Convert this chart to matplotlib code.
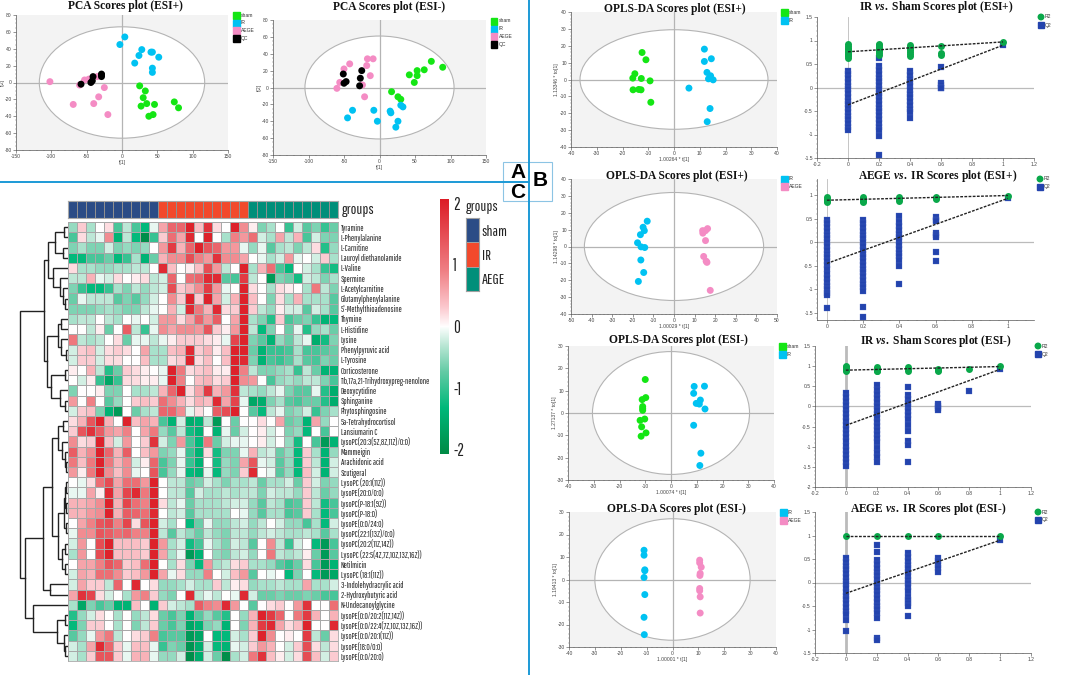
import matplotlib
matplotlib.use("Agg")
import logging
import numpy as np
import matplotlib.pyplot as plt
from matplotlib.colors import LinearSegmentedColormap, ListedColormap, Normalize
from matplotlib.patches import Ellipse, Rectangle
from matplotlib.ticker import FormatStrFormatter

W, H = 1065, 675
GREEN = "#14e614"
CYAN = "#00c2f2"
PINK = "#f48cc4"
R2_COL = "#0aa84a"
Q2_COL = "#2343ad"
LINE_BLUE = "#1c9ad6"
NARROW = ["Pathway Gothic One", "Archivo Narrow", "Roboto Condensed", "Liberation Sans"]

logging.getLogger("matplotlib.font_manager").setLevel(logging.ERROR)
plt.rcParams["font.family"] = ["Liberation Sans"]
plt.rcParams["axes.unicode_minus"] = False
plt.rcParams["mathtext.fontset"] = "custom"
plt.rcParams["mathtext.rm"] = "Liberation Serif:bold"
plt.rcParams["mathtext.it"] = "Liberation Serif:italic:bold"

# PCA scores as (t1, t2)
PCA_POS_SHAM = [(25, -4), (33, -10), (30, -18), (27, -28), (35, -25), (46, -26), (38, -40), (44, -38), (74, -23), (80, -30)]
PCA_POS_IR = [(-3, 45), (4, 54), (28, 39), (41, 36), (43, 36), (52, 30), (24, 32), (18, 23), (43, 17), (43, 12)]
PCA_POS_AEGE = [(-102, 1), (-60, -3), (-53, 3), (-47, 4), (-35, 7), (-25, -6), (-33, -17), (-40, -25), (-69, -26), (-20, -38)]
PCA_POS_QC = [(-58, -2), (-44, 0), (-42, 2), (-41, 7), (-29, 7), (-29, 9), (-29, 10)]

PCA_NEG_SHAM = [(17, -5), (26, -11), (30, -14), (42, 15), (53, 20), (53, 14), (49, 6), (63, 21), (73, 31), (89, 24)]
PCA_NEG_IR = [(-38, -27), (-45, -36), (-8, -27), (15, -28), (16, -30), (-3, -40), (26, -40), (23, -47), (30, -21), (33, -23)]
PCA_NEG_AEGE = [(-17, 34), (-9, 34), (-42, 28), (-50, 22), (-18, 26), (-13, 14), (-56, 6), (-60, -1), (-24, 3), (-21, -11)]
PCA_NEG_QC = [(-51, 16), (-25, 20), (-27, 11), (-28, 2), (-50, 5), (-47, 7)]

# OPLS-DA scores
OPLS1_SHAM = [(-12.4, 16), (-10.9, 11.7), (-15.2, 3.4), (-16, 0.8), (-12.7, 0.6), (-9.3, -0.8), (-15.9, -6.1), (-13.7, -5.9), (-12.8, -6.1), (-9, -13.5)]
OPLS1_IR = [(11.8, 18), (14.5, 12.3), (11.8, 10.7), (12.8, 4.2), (14.2, 2.2), (13.4, 0.4), (15.2, -0.2), (5.8, -5.1), (14, -17.2), (12.9, -25)]
OPLS2_IR = [(-13, 15), (-15, 11.4), (-14.4, 9.4), (-16.3, 7), (-17.7, 2.2), (-16, -0.2), (-14.2, -0.6), (-16.1, -8), (-14.7, -15.4), (-17.3, -20.7)]
OPLS2_AEGE = [(16.3, 10.6), (13.9, 9.4), (15.3, 9.4), (14, 7.9), (15.3, 3.5), (14.4, -5.9), (15.6, -8.7), (16, -9.4), (17.6, -26)]
OPLS3_SHAM = [(-10, 15), (-9.8, 6.9), (-11.2, 6), (-11, 2.9), (-11, 2), (-11, 1.2), (-10.2, -2.7), (-12, -3.3), (-11.4, -6.2), (-9.7, -8.9), (-11.6, -10.4)]
OPLS3_IR = [(9, 11.9), (13, 12), (8.8, 8.8), (11.4, 5.8), (9.8, 4.3), (11, 4), (13.2, 1.8), (8.8, -5.5), (11.6, -18), (11.2, -23.5)]
OPLS4_IR = [(-11, 13), (-11, 10.8), (-10.7, 4.3), (-10.7, 3.9), (-11, 0.9), (-10.7, -6.7), (-11, -16.8), (-10.9, -24.5)]
OPLS4_AEGE = [(10.5, 8.6), (10.5, 7.4), (11.1, 5.5), (10.7, 2.7), (10.6, 1.8), (10.5, -4), (10.5, -5), (10.7, -7.7), (10.7, -14.9)]

# permutation tests: {x: [values]}
PERM1_R2 = {0: [0.92, 0.88, 0.85, 0.82, 0.78, 0.75, 0.72, 0.7, 0.66, 0.62], 0.2: [0.93, 0.9, 0.87, 0.84, 0.8, 0.77, 0.74, 0.7], 0.4: [0.9, 0.86, 0.83, 0.8, 0.76, 0.72, 0.68], 0.6: [0.89, 0.73, 0.7], 1: [0.97]}
PERM1_Q2 = {0: [0.35, 0.28, 0.2, 0.12, 0.04, -0.04, -0.12, -0.2, -0.28, -0.36, -0.44, -0.52, -0.6, -0.68, -0.75, -0.85, -0.9],
            0.2: [0.62, 0.45, 0.37, 0.29, 0.21, 0.13, 0.05, -0.03, -0.11, -0.19, -0.27, -0.35, -0.43, -0.51, -0.59, -0.67, -0.75, -0.83, -0.91, -1.03, -1.43],
            0.4: [0.35, 0.27, 0.19, 0.11, 0.03, -0.05, -0.13, -0.21, -0.29, -0.37, -0.45, -0.53, -0.65],
            0.6: [0.43, 0.1, 0.05, 0, -0.02], 1: [0.9]}
PERM2_R2 = {0: [0.95, 0.92, 0.9, 0.87, 0.85], 0.2: [0.95, 0.92, 0.9, 0.87, 0.85], 0.4: [0.96, 0.92, 0.88], 0.6: [0.96, 0.94, 0.92], 1: [0.99]}
PERM2_Q2 = {0: [0.48, 0.4, 0.32, 0.24, 0.16, 0.08, 0, -0.08, -0.16, -0.24, -0.32, -0.4, -0.48, -0.56, -0.68, -0.76, -0.84, -0.92, -1, -1.08, -1.13, -1.4],
            0.2: [0.48, 0.4, 0.32, 0.24, 0.16, 0.08, 0, -0.08, -0.16, -0.24, -0.32, -0.4, -0.48, -0.56, -0.64, -0.72, -0.8, -0.88, -0.96, -1.03, -1.38, -1.58],
            0.4: [0.55, 0.42, 0.34, 0.26, 0.18, 0.1, 0.02, -0.06, -0.14, -0.22, -0.3, -0.38, -0.5, -0.89],
            0.6: [0.53, 0.48, 0.45, 0.2, 0.15, 0.1, -0.2, -0.39], 1: [0.93]}
PERM3_R2 = {0: [1, 0.97, 0.94, 0.9, 0.87], 0.2: [0.97, 0.93, 0.89, 0.87], 0.4: [0.97, 0.93, 0.89], 0.6: [0.93, 0.9, 0.87], 0.8: [0.92], 1: [1]}
PERM3_Q2 = {0: [0.33, 0.23, 0.13, 0.03, -0.07, -0.17, -0.27, -0.37, -0.47, -0.57, -0.67, -0.77, -0.87, -0.97, -1.07, -1.17, -1.27, -1.37, -1.47],
            0.2: [0.52, 0.42, 0.32, 0.22, 0.12, 0.02, -0.08, -0.18, -0.28, -0.38, -0.48, -0.58, -0.68, -0.78, -0.88, -1.03, -1.15, -1.25, -1.37],
            0.4: [0.49, 0.28, 0.18, 0.08, -0.02, -0.12, -0.22, -0.32, -0.47, -0.62, -0.85, -0.95, -1.38],
            0.6: [0.05, 0, -0.05, -0.1], 0.8: [0.38], 1: [0.92]}
PERM4_R2 = {0: [1], 0.2: [1], 0.4: [1], 0.6: [1], 1: [1]}
PERM4_Q2 = {0: [0.52, 0.44, 0.36, 0.28, 0.2, 0.12, 0.04, -0.04, -0.12, -0.2, -0.28, -0.36, -0.44, -0.52, -0.6, -0.68, -0.8, -1.04],
            0.2: [0.8, 0.65, 0.47, 0.39, 0.31, 0.23, 0.15, 0.07, -0.01, -0.09, -0.17, -0.25, -0.33, -0.41, -0.49, -0.57, -0.65, -0.75, -1.19, -1.22],
            0.4: [0.62, 0.54, 0.46, 0.38, 0.3, 0.22, 0.14, 0.06, -0.02, -0.1, -0.18, -0.3, -0.38, -0.44, -0.5, -0.72],
            0.6: [0.53, 0.45, 0.38, 0.3, 0.22], 1: [0.9]}
# fit lines, value at x=0 and x=1
PERM_FITS = [((0.76, 0.97), (-0.37, 0.9)), ((0.89, 0.99), (-0.45, 0.93)), ((0.9, 0.99), (-0.47, 0.92)), ((1, 1), (-0.23, 0.9))]

METABOLITES = ["Tyramine", "L-Phenylalanine", "L-Carnitine", "Lauroyl diethanolamide", "L-Valine", "Spermine",
               "L-Acetylcarnitine", "Glutamylphenylalanine", "5'-Methylthioadenosine", "Thymine", "L-Histidine", "Lysine",
               "Phenylpyruvic acid", "L-Tyrosine", "Corticosterone", "11b,17a,21-Trihydroxypreg-nenolone", "Deoxycytidine",
               "Sphinganine", "Phytosphingosine", "5a-Tetrahydrocortisol", "Lansiumarin C", "LysoPC(20:3(5Z,8Z,11Z)/0:0)",
               "Mammeigin", "Arachidonic acid", "Scutigeral", "LysoPC (20:1(11Z))", "LysoPE(20:0/0:0)", "LysoPC(P-18:1(9Z))",
               "LysoPC(P-18:0)", "LysoPE(0:0/24:0)", "LysoPC(22:1(13Z)/0:0)", "LysoPC(20:2(11Z,14Z))",
               "LysoPC (22:5(4Z,7Z,10Z,13Z,16Z))", "Netilmicin", "LysoPC (18:1(11Z))", "3-Indolehydracrylic acid",
               "2-Hydroxybutyric acid", "N-Undecanoylglycine", "LysoPE(0:0/20:2(11Z,14Z))", "LysoPE(0:0/22:4(7Z,10Z,13Z,16Z))",
               "LysoPE(0:0/20:1(11Z))", "LysoPE(18:0/0:0)", "LysoPE(0:0/20:0)"]

# z-scores x10: 10 sham, 10 IR, 10 AEGE
HEAT_TENTHS = [
    [-5, 3, -4, 0, 2, -9, -3, -9, -13, -1, 6, 12, 12, 20, 4, 18, 2, 0, 20, 8, 1, -6, -4, 0, -10, -2, -8, -6, -10, -7],
    [-9, 2, -3, -1, 8, -14, -3, -13, -20, -10, 3, 11, 6, 19, 0, 20, 0, -4, 9, 7, 11, -2, -4, 6, -3, 5, -9, -2, -6, -6],
    [-6, -4, -6, -6, -2, -6, -5, -6, -5, 0, 7, 17, 5, 12, 20, 14, 12, 7, 7, -1, -5, -1, -8, -4, -3, -6, -3, 2, -11, -5],
    [-13, -13, -9, -9, -7, -13, -10, -4, -14, -7, 5, 8, 8, 15, 9, 7, 18, 8, 8, 6, 0, -1, -4, -2, 7, -1, 0, -2, 3, -4],
    [2, -4, -4, -5, -5, -4, -4, -3, -3, 0, 19, 4, 0, 1, 4, 15, 7, -3, 0, 20, -4, 5, 11, -9, -13, 0, -2, -4, -10, -12],
    [-3, -3, 5, -1, -2, 2, 0, 1, 2, -3, -2, 12, 0, 11, 12, 19, 19, -8, -9, 17, -3, 0, -18, -6, -7, -12, -2, -3, -6, -4],
    [-6, -10, -13, -13, -10, -4, -6, -3, -5, -3, -2, 15, 3, 5, 8, 17, 7, -1, 0, 20, 2, 0, -4, 2, 1, 0, -4, 10, -3, -6],
    [-7, -1, -3, -3, -3, -8, -6, -8, -5, -2, 0, 8, 3, 20, 3, 20, 6, -2, 5, 20, 4, 0, -6, 2, -4, 5, -4, -4, -4, -8],
    [-6, -6, -6, -5, -4, -5, -6, -6, -3, -1, 0, 5, -2, 19, 10, 5, 19, 2, 3, 20, 3, -3, -5, 1, -2, -2, -8, -2, -4, -8],
    [-4, -3, -3, 0, -3, -4, 0, -1, 0, -2, 7, 7, 2, 6, 12, 7, 13, 0, 6, 20, -4, -6, -11, 3, -9, -7, -6, -10, -14, -13],
    [0, 0, -3, 1, -7, 0, 13, -3, -10, -1, 8, 6, 8, 8, 7, 14, 3, 1, 7, 20, -3, -13, -6, 0, -7, -1, -11, -5, -4, -7],
    [10, -3, -4, -3, 0, 2, -7, -1, -1, -3, -1, 1, 3, 3, 3, 2, 1, -1, 16, 20, -6, -8, -14, -5, -7, -3, -1, -15, -12, -6],
    [-2, 3, 4, -2, 2, 3, 2, 0, 6, -4, -4, 4, 5, 19, 3, 5, 1, 4, 20, 20, -7, -14, -10, -10, -9, -4, -9, -9, -8, -7],
    [-2, 3, 3, -2, 2, 2, 0, 0, 4, -4, -4, 2, 3, 20, 2, 4, 0, 4, 20, 19, -6, -14, -9, -10, -8, -4, -8, -9, -6, -7],
    [1, 0, 5, -3, -11, -7, 3, 2, 1, 0, -1, 20, 10, 2, 3, 4, 1, 1, 20, 9, -3, -6, -6, -5, -4, -10, -3, -7, -14, -14],
    [0, -2, 1, -10, -16, -10, 2, 2, 1, 1, -1, 20, 9, 0, 4, 5, 2, 3, 20, 8, 7, 0, -9, -5, -4, -5, -3, -3, -6, -9],
    [-6, 0, 0, 1, -6, -6, 0, -4, -4, -3, 5, 12, 20, 2, 6, 17, 5, 7, 18, -3, -4, -5, -3, -1, -6, -8, -8, -1, -11, -15],
    [7, 0, 9, 0, -8, -5, 0, 3, 4, 3, 11, 8, 5, 2, 5, 4, 19, 6, 16, -1, -16, -15, -6, -4, -8, -9, -7, -7, -11, -15],
    [-2, 3, 4, -6, -14, -18, 0, -7, -4, -3, 12, 12, 8, -1, 2, 0, 13, 15, 20, 0, -8, -13, -3, -1, -6, -5, -2, -10, -6, -4],
    [2, 5, 14, 20, 5, 0, 20, 4, 6, 5, -9, -14, -2, -15, -14, -3, -18, 0, -7, 0, 0, 2, 0, 6, -7, -6, -14, 6, -5, 0],
    [3, 14, 18, 13, 7, 6, 9, 0, 6, 10, -5, -8, -3, -12, -14, 0, -14, -1, -7, -2, 0, 1, -2, 0, -6, -5, -13, 0, -9, 0],
    [8, 2, 3, 20, 4, -2, 7, 0, 3, 18, -2, -6, 7, -9, -13, 10, -7, -2, -1, -1, 0, 1, -2, 0, -5, -12, 0, -9, -18, -14],
    [13, 5, 8, 20, 12, 5, 13, 0, 4, 7, -6, -5, -1, -10, -14, 2, -12, -6, -6, -1, 5, -3, -2, -7, -5, -13, 3, -4, -14, -5],
    [10, 4, 10, 20, 10, 5, 8, -2, 1, 12, -9, -6, -1, -10, -14, 0, -12, -5, -6, 6, 14, -1, -2, -8, -5, -13, 3, -3, -14, -2],
    [7, 1, 10, 20, 8, 4, 8, -1, 0, 14, -9, -5, -1, -13, -14, -1, -13, -5, -6, 3, 19, 0, -1, -8, -5, -13, 4, -2, -14, -2],
    [0, -1, 2, 11, 15, 6, 11, 11, 7, 20, 0, -3, -3, -7, -6, -2, -4, -6, -4, -4, -3, -7, -4, -4, -2, -7, 3, -2, -6, -5],
    [-1, -1, 6, 1, 19, 6, 16, 19, 10, 20, 0, -3, -3, -8, -2, -4, -4, -3, -4, -3, -3, -6, -2, -3, -3, -5, 3, -3, -7, -5],
    [5, 5, 6, 8, 20, 5, 16, 11, 9, 20, 2, -3, -1, -7, -4, -4, -4, -3, -2, -2, -5, -8, -3, -4, -9, -8, 3, -3, -12, -9],
    [5, 5, 7, 8, 20, 5, 13, 12, 11, 19, 0, -3, -2, -8, -4, -4, -4, -4, 0, -1, -5, -8, -4, -4, -9, -8, 3, -4, -13, -9],
    [0, 6, 9, 14, 15, 9, 16, 2, 14, 20, -2, -4, 0, -13, -7, -1, -5, -5, -3, -2, -5, -3, 0, -2, -5, -5, -9, -4, -13, -2],
    [-1, 8, 8, 14, 13, 11, 12, 9, 9, 20, -3, -8, -3, -5, -7, -3, -5, -6, -3, -3, -5, -3, -2, -3, -4, -4, -3, -4, -8, -4],
    [-2, 7, 0, 15, 20, 4, 4, 4, 3, 20, 7, -4, -2, -12, -9, -1, -4, -6, -2, -3, -8, 0, 8, -3, -10, -2, 0, -13, -18, -9],
    [-4, 7, 0, 15, 20, 4, 4, 4, 3, 20, 6, -4, -1, -18, -14, 0, -5, -6, -3, -2, -5, 0, 10, -3, -4, -3, 1, -7, -18, -8],
    [0, 6, 6, 9, 14, 12, 3, 4, 11, 20, 0, -4, 2, -6, -13, 7, -4, -3, 2, 3, -4, -4, -5, -8, -10, -7, 2, -9, -18, -14],
    [-2, 6, 5, 11, 11, 8, 3, 4, 7, 20, 6, -1, 2, -5, -5, 9, 0, -2, 4, 7, -8, 0, -1, 0, -13, -6, 0, -13, -18, -16],
    [-2, 6, 3, 3, -3, 12, 0, 19, 0, 2, -5, -5, -4, -2, -4, -4, 3, -3, 1, 2, -5, -4, -4, -3, -4, -4, 6, -4, -4, -2],
    [6, 18, 16, 2, -2, 0, -4, 7, 9, 3, -5, -6, 0, 19, -3, -1, -3, 0, -1, 19, -2, -7, -7, -6, -7, -7, -6, -7, -9, -9],
    [-4, -16, -6, -9, -7, -14, -14, 4, 0, -14, 3, -2, -3, -4, 13, 9, 8, 19, 7, 0, -8, 0, 2, 3, 0, 7, 18, 0, 0, 11],
    [-11, -5, -2, 2, 0, -4, 0, -5, -3, 2, -7, -9, -6, -14, -8, -5, -8, -11, 0, -5, 5, 20, 17, 12, 0, 10, 17, 5, 0, 5],
    [-13, -6, 3, 3, 0, -4, 0, -6, -3, 3, -7, -9, -6, -16, -14, -6, -5, -14, 0, -6, 5, 17, 19, 6, 2, 4, 20, 0, 0, 19],
    [-8, -5, -1, 7, 10, -3, 0, 2, 3, 9, -9, -8, -8, -18, -16, 0, -13, -13, -2, -4, 3, 20, 8, 0, 1, 0, 17, -3, -7, 2],
    [-2, -4, 6, 19, 12, 3, -1, 4, 4, -1, -10, -6, -7, -19, -15, -2, -13, -14, -1, -2, 3, 7, 5, 0, -2, 3, 15, 2, -3, 2],
    [-2, -4, 3, 14, 14, 3, -1, 5, 5, -1, -5, -5, -2, -20, -15, -2, -7, -20, -4, -2, 10, 18, 4, 1, -2, 2, 15, 4, -2, 3],
]
GROUP_NAMES = ["sham", "IR", "AEGE"]
GROUP_CODES = [0] * 10 + [1] * 10 + [2] * 10
GROUP_COLS = ["#2b4c86", "#f2492c", "#008f7a"]

# row dendrogram as (height, left, right), leaves are row numbers
T_UP_A = (13, (3.3, 0, 1), (4.3, 2, 3))
T_UP_B = (15, 4, (8, 5, (5, 6, (3, 7, 8))))
T_UP_C = (10, (7, 9, 10), (7, 11, (2, 12, 13)))
T_UP_D = (17, (3, 14, 15), (8, 16, (3, 17, 18)))
T_UP = (24, (20, T_UP_A, T_UP_B), (21, T_UP_C, T_UP_D))
T_MID_A = (10, (5, 19, 20), (6, 21, (3, 22, (2, 23, 24))))
T_MID_B = (9.5, (4, (3, (1.5, 25, 26), (1.5, 27, 28)), (2, 29, 30)), (6, (2.5, 31, 32), (2.5, 33, 34)))
T_MID = (25, (16, T_MID_A, T_MID_B), (18, 35, 36))
T_LOW = (35, 37, (10.7, (3, 38, 39), (3.5, 40, (3, 41, 42))))
T_ROOT = (47.7, T_UP, (43, T_MID, T_LOW))


def px_axes(fig, x0, y0, x1, y1):
    return fig.add_axes([x0 / W, 1 - y1 / H, (x1 - x0) / W, (y1 - y0) / H])


def legend_block(fig, x, y_list, names, cols, size=7, markers=None):
    # legends of the SIMCA panels sit outside the axes, placed in pixels
    for i, name in enumerate(names):
        y = y_list[i]
        if markers is not None and markers[i] == "o":
            fig.add_artist(Ellipse((x / W, 1 - y / H), size / W, size / H, color=cols[i], transform=fig.transFigure))
        else:
            fig.add_artist(Rectangle(((x - size / 2) / W, 1 - (y + size / 2) / H), size / W, size / H, color=cols[i], transform=fig.transFigure))
        fig.text((x + size / 2 + 1) / W, 1 - y / H, name, fontsize=3.6, color="#333333", va="center")


def style_axis(ax):
    for s in ["top", "right"]:
        ax.spines[s].set_visible(False)
    for s in ["left", "bottom"]:
        ax.spines[s].set_linewidth(0.5)
        ax.spines[s].set_color("#555555")
    ax.minorticks_on()
    ax.tick_params(which="major", labelsize=3.6, length=2, width=0.4, pad=1, colors="#444444")
    ax.tick_params(which="minor", length=1, width=0.3, colors="#666666")
    ax.xaxis.set_major_formatter(FormatStrFormatter("%g"))
    ax.yaxis.set_major_formatter(FormatStrFormatter("%g"))


def scores_panel(fig, box, xlim, ylim, ell, groups, xlab, ylab, xticks, yticks):
    ax = px_axes(fig, *box)
    ax.set_facecolor("#f3f3f3")
    ax.add_patch(Ellipse((0, 0), 2 * ell[0], 2 * ell[1], facecolor="white", edgecolor="#b4b4b4", linewidth=0.8, zorder=1))
    ax.axhline(0, color="#b4b4b4", lw=0.9, zorder=2)
    ax.axvline(0, color="#b4b4b4", lw=0.9, zorder=2)
    for pts, col in groups:
        xy = np.array(pts)
        ax.scatter(xy[:, 0], xy[:, 1], s=25, color=col, edgecolors="none", zorder=3)
    ax.set_xlim(xlim)
    ax.set_ylim(ylim)
    ax.set_xticks(xticks)
    ax.set_yticks(yticks)
    style_axis(ax)
    ax.set_xlabel(xlab, fontsize=3.6, labelpad=0.5, color="#444444")
    ax.set_ylabel(ylab, fontsize=3.6, labelpad=0, color="#444444")
    return ax


def perm_panel(fig, box, xlim, ylim, r2, q2, fits, yticks, vline_w=0.6):
    ax = px_axes(fig, *box)
    ax.axhline(0, color="#bbbbbb", lw=0.9, zorder=1)
    ax.axvline(0, color="#bbbbbb", lw=vline_w, zorder=1)
    for x, vals in q2.items():
        ax.plot([x] * len(vals), vals, "s", color=Q2_COL, ms=4.0, mec="#4c68c4", mew=0.2, zorder=3)
    for x, vals in r2.items():
        ax.plot([x] * len(vals), vals, "o", color=R2_COL, ms=5.0, mew=0, zorder=4)
    ax.plot([0, 1], fits[0], color="#222222", lw=1.0, ls=(0, (2, 1)), zorder=5)
    ax.plot([0, 1], fits[1], color="#222222", lw=1.0, ls=(0, (2, 1)), zorder=5)
    ax.set_xlim(xlim)
    ax.set_ylim(ylim)
    ax.set_yticks(yticks)
    style_axis(ax)
    return ax


def leaf_pos(node):
    # walk the nested tree, draw one bracket per merge
    if isinstance(node, int):
        return 0, node + 0.5
    h, left, right = node
    h1, y1 = leaf_pos(left)
    h2, y2 = leaf_pos(right)
    dend_ax.plot([h1, h, h, h2], [y1, y1, y2, y2], color="#222222", lw=1.0, solid_joinstyle="miter")
    return h, (y1 + y2) / 2


fig = plt.figure(figsize=(W / 100, H / 100), dpi=100)

# panel A, PCA
scores_panel(fig, (16, 15, 228, 150), (-150, 150), (-80, 80), (117, 66),
             [(PCA_POS_SHAM, GREEN), (PCA_POS_IR, CYAN), (PCA_POS_AEGE, PINK), (PCA_POS_QC, "black")],
             "t[1]", "t[2]", [-150, -100, -50, 0, 50, 100, 150], [-80, -60, -40, -20, 0, 20, 40, 60, 80])
scores_panel(fig, (273, 20, 486, 155), (-150, 150), (-80, 80), (105, 61),
             [(PCA_NEG_SHAM, GREEN), (PCA_NEG_IR, CYAN), (PCA_NEG_AEGE, PINK), (PCA_NEG_QC, "black")],
             "t[1]", "t[2]", [-150, -100, -50, 0, 50, 100, 150], [-80, -60, -40, -20, 0, 20, 40, 60, 80])
legend_block(fig, 236, [15.5, 23, 30.5, 38.5], ["sham", "IR", "AEGE", "QC"], [GREEN, CYAN, PINK, "black"])
legend_block(fig, 494, [21, 29, 36.5, 44.5], ["sham", "IR", "AEGE", "QC"], [GREEN, CYAN, PINK, "black"])

# panel B, OPLS-DA
scores_panel(fig, (571, 12, 777, 147), (-40, 40), (-40, 40), (36.5, 29.5), [(OPLS1_SHAM, GREEN), (OPLS1_IR, CYAN)],
             "1.00264 * t[1]", "1.13346 * to[1]", range(-40, 41, 10), range(-40, 41, 10))
scores_panel(fig, (571, 179, 777, 314), (-50, 50), (-40, 40), (43.5, 32), [(OPLS2_IR, CYAN), (OPLS2_AEGE, PINK)],
             "1.00029 * t[1]", "1.14298 * to[1]", range(-50, 51, 10), range(-40, 41, 10))
scores_panel(fig, (568, 346, 774, 480), (-40, 40), (-30, 30), (30.5, 27.5), [(OPLS3_SHAM, GREEN), (OPLS3_IR, CYAN)],
             "1.00074 * t[1]", "1.27137 * to[1]", range(-40, 41, 10), range(-30, 31, 10))
scores_panel(fig, (569, 512, 776, 647), (-40, 40), (-30, 30), (30, 27), [(OPLS4_IR, CYAN), (OPLS4_AEGE, PINK)],
             "1.00001 * t[1]", "1.19413 * to[1]", range(-40, 41, 10), range(-30, 31, 10))
legend_block(fig, 784, [12.5, 20.5], ["sham", "IR"], [GREEN, CYAN])
legend_block(fig, 784, [179, 187], ["IR", "AEGE"], [CYAN, PINK])
legend_block(fig, 782, [346, 354], ["sham", "IR"], [GREEN, CYAN])
legend_block(fig, 783, [512, 520], ["IR", "AEGE"], [CYAN, PINK])

# panel B, permutation tests
full = [-1.5, -1, -0.5, 0, 0.5, 1, 1.5]
a1 = perm_panel(fig, (817, 17, 1034, 158), (-0.2, 1.2), (-1.5, 1.5), PERM1_R2, PERM1_Q2, PERM_FITS[0], full)
a2 = perm_panel(fig, (817, 179, 1034, 320), (-0.055, 1.144), (-1.65, 1.34), PERM2_R2, PERM2_Q2, PERM_FITS[1], [-1.5, -1, -0.5, 0, 0.5, 1])
a3 = perm_panel(fig, (815, 346, 1031, 487), (-0.2, 1.2), (-2, 1.5), PERM3_R2, PERM3_Q2, PERM_FITS[2], [-2] + full, vline_w=2)
a4 = perm_panel(fig, (815, 512, 1031, 653), (-0.2, 1.2), (-1.5, 1.5), PERM4_R2, PERM4_Q2, PERM_FITS[3], full, vline_w=2)
for a in [a1, a3, a4]:
    a.set_xticks([-0.2, 0, 0.2, 0.4, 0.6, 0.8, 1, 1.2])
a2.set_xticks([0, 0.2, 0.4, 0.6, 0.8, 1])
for x, ys in [(1041, [17, 25]), (1040, [179, 187]), (1038, [346, 354]), (1038, [512, 520])]:
    legend_block(fig, x, ys, ["R2", "Q2"], [R2_COL, Q2_COL], size=5.5, markers=["o", "s"])

# titles, centred on where they sit in the figure
TITLES = [(125, 6, "PCA Scores plot (ESI+)"), (389, 7, "PCA Scores plot (ESI-)"),
          (675, 9, "OPLS-DA Scores plot (ESI+)"), (936, 7, r"IR $\mathit{vs.}$ Sham Scores plot (ESI+)"),
          (677, 176, "OPLS-DA Scores plot (ESI+)"), (938, 176, r"AEGE $\mathit{vs.}$ IR Scores plot (ESI+)"),
          (678, 340, "OPLS-DA Scores plot (ESI-)"), (936, 341, r"IR $\mathit{vs.}$ Sham Scores plot (ESI-)"),
          (676, 509, "OPLS-DA Scores plot (ESI-)"), (928, 509, r"AEGE $\mathit{vs.}$ IR Scores plot (ESI-)")]
for x, y, t in TITLES:
    fig.text(x / W, 1 - y / H, t, family="Liberation Serif", weight="bold", fontsize=8.3, ha="center", va="center", color="#111111")

# panel C, heatmap
heat = np.array(HEAT_TENTHS) / 10
cmap = LinearSegmentedColormap.from_list("gwr", [(0, "#008a45"), (0.18, "#00b87a"), (0.32, "#62caa4"), (0.42, "#b6e5d2"), (0.5, "#ffffff"),
                                                 (0.58, "#fbc6cc"), (0.72, "#ef7f84"), (1, "#dc1c26")])
norm = Normalize(-2.07, 2.07)
ax_h = px_axes(fig, 68, 222, 338, 661)
mesh = ax_h.pcolormesh(heat, cmap=cmap, norm=norm, edgecolors="#a8a8a8", linewidth=0.6)
ax_h.set_ylim(len(METABOLITES), 0)
ax_h.set_xticks([])
ax_h.yaxis.tick_right()
ax_h.set_yticks(np.arange(len(METABOLITES)) + 0.5)
ax_h.set_yticklabels(METABOLITES, family=NARROW, fontsize=6, color="#222222")
ax_h.tick_params(axis="y", length=0, pad=2)
for s in ax_h.spines.values():
    s.set_color("#a8a8a8")
    s.set_linewidth(0.6)

group_cmap = ListedColormap(GROUP_COLS)
ax_g = px_axes(fig, 68, 201, 338, 218)
ax_g.pcolormesh([GROUP_CODES], cmap=group_cmap, vmin=0, vmax=2, edgecolors="#8f8f8f", linewidth=0.4)
ax_g.set_xticks([])
ax_g.set_yticks([])
for s in ax_g.spines.values():
    s.set_color("#a8a8a8")
fig.text(342 / W, 1 - 210 / H, "groups", family=NARROW, weight="bold", fontsize=11, va="center", color="#222222")

ax_l = px_axes(fig, 466, 218, 479, 291)
ax_l.pcolormesh([[0], [1], [2]], cmap=group_cmap, vmin=0, vmax=2, edgecolors="#a0a0a0", linewidth=0.6)
ax_l.set_ylim(3, 0)
ax_l.set_xticks([])
ax_l.yaxis.tick_right()
ax_l.set_yticks([0.5, 1.5, 2.5])
ax_l.set_yticklabels(GROUP_NAMES, family=NARROW, fontsize=11, color="#222222")
ax_l.tick_params(axis="y", length=0, pad=2)
for s in ax_l.spines.values():
    s.set_color("#a0a0a0")
fig.text(466 / W, 1 - 207 / H, "groups", family=NARROW, weight="bold", fontsize=11, va="center", color="#222222")

cax = px_axes(fig, 440, 199, 449, 454)
cb = fig.colorbar(mesh, cax=cax)
cb.set_ticks([-2, -1, 0, 1, 2])
cb.set_ticklabels(["-2", "-1", "0", "1", "2"], family=NARROW, fontsize=12, color="#222222")
cb.ax.tick_params(length=0, pad=3)
cb.outline.set_visible(False)

dend_ax = px_axes(fig, 19, 222, 67.5, 661)
leaf_pos(T_ROOT)
dend_ax.set_xlim(48.5, 0)
dend_ax.set_ylim(len(METABOLITES), 0)
dend_ax.axis("off")

# dividers and the A B C box
fig.add_artist(plt.Line2D([0, 529 / W], [1 - 182 / H] * 2, color=LINE_BLUE, lw=1.4))
fig.add_artist(plt.Line2D([529 / W] * 2, [0, 1], color=LINE_BLUE, lw=1.4))
fig.add_artist(Rectangle((503 / W, 1 - 201 / H), 49 / W, 39 / H, fill=False, edgecolor="#8cc4e4", lw=0.8, transform=fig.transFigure))
for x, y, t in [(518, 172, "A"), (518, 192, "C"), (540, 181, "B")]:
    fig.text(x / W, 1 - y / H, t, weight="bold", fontsize=15, ha="center", va="center", color="black")

fig.savefig("out.png", dpi=100)
